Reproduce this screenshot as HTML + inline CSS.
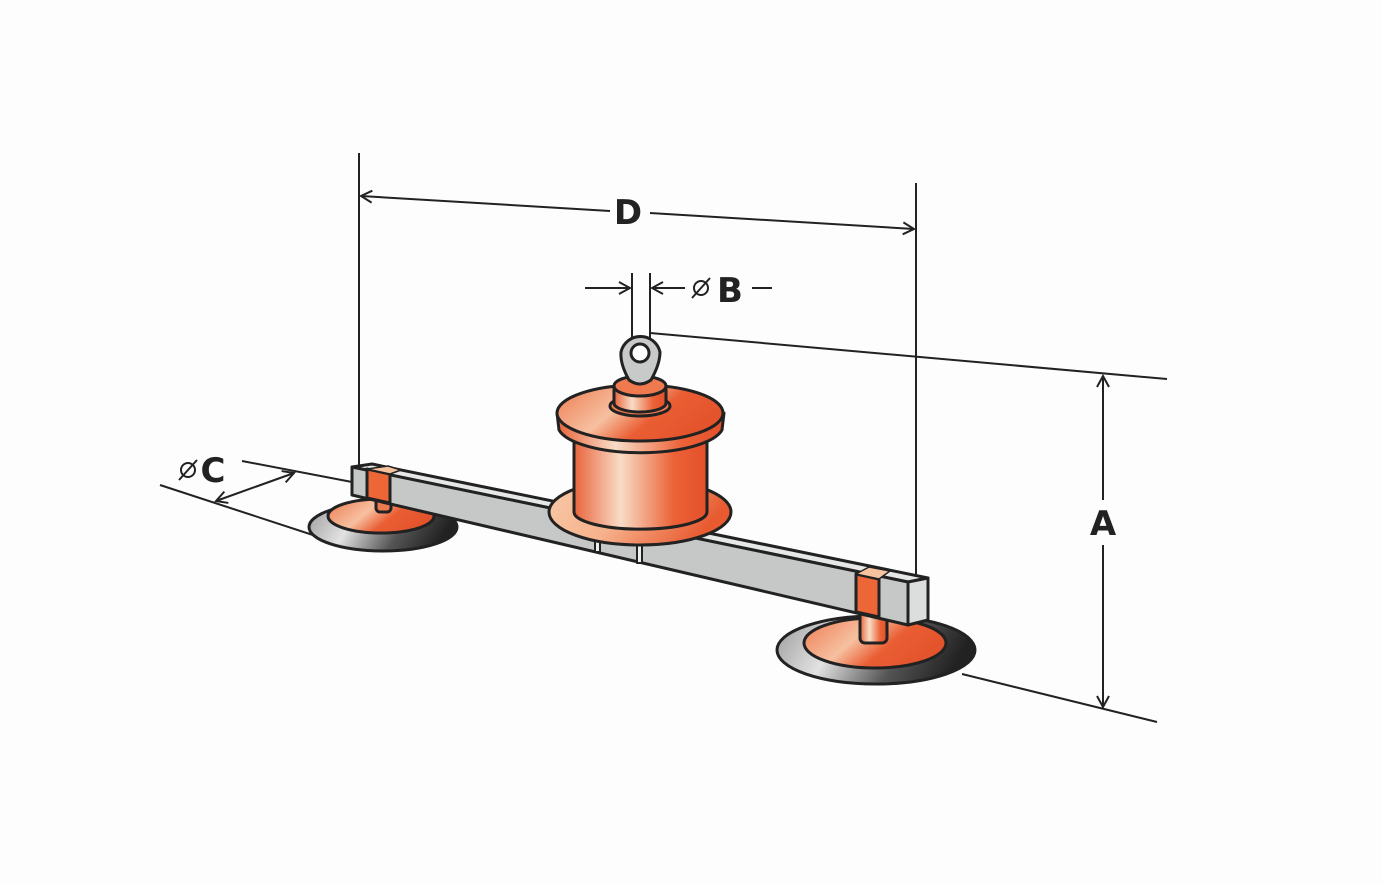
<!DOCTYPE html>
<html><head><meta charset="utf-8"><style>html,body{margin:0;padding:0;background:#fdfdfd}svg{display:block}</style></head>
<body>
<svg width="1382" height="883" viewBox="0 0 1382 883" xmlns="http://www.w3.org/2000/svg">
<defs>
<linearGradient id="og" x1="0" x2="1" y1="0" y2="0">
<stop offset="0" stop-color="#e9643c"/><stop offset="0.35" stop-color="#f8dcc6"/><stop offset="0.75" stop-color="#ec6237"/><stop offset="1" stop-color="#e4502a"/></linearGradient>
<linearGradient id="og2" x1="0" x2="1" y1="0" y2="0.3">
<stop offset="0" stop-color="#f8caa8"/><stop offset="0.5" stop-color="#f6b28c"/><stop offset="1" stop-color="#e85a30"/></linearGradient>
<linearGradient id="rg" x1="0" x2="1" y1="0" y2="0.4">
<stop offset="0" stop-color="#ee7a50"/><stop offset="0.45" stop-color="#f6c0a0"/><stop offset="0.7" stop-color="#ea5e34"/><stop offset="1" stop-color="#e4542c"/></linearGradient>
<linearGradient id="gg" x1="0" x2="1" y1="0" y2="0.2">
<stop offset="0" stop-color="#9a9a9a"/><stop offset="0.35" stop-color="#e2e2e2"/><stop offset="0.7" stop-color="#555"/><stop offset="1" stop-color="#222"/></linearGradient>
<marker id="ar" markerWidth="14" markerHeight="14" refX="12" refY="7" orient="auto" markerUnits="userSpaceOnUse"><path d="M1,1 L12,7 L1,13" fill="none" stroke="#222" stroke-width="2"/></marker>
</defs>
<g stroke="#222" stroke-width="2" fill="none">
<line x1="359" y1="153" x2="359" y2="466"/>
<line x1="916" y1="183" x2="916" y2="578"/>
<line x1="610" y1="211" x2="361" y2="196" marker-end="url(#ar)"/>
<line x1="650" y1="213" x2="914" y2="229" marker-end="url(#ar)"/>
<line x1="585" y1="288" x2="630" y2="288" marker-end="url(#ar)"/>
<line x1="685" y1="288" x2="652" y2="288" marker-end="url(#ar)"/>
<line x1="632" y1="273" x2="632" y2="340"/>
<line x1="650" y1="273" x2="650" y2="340"/>
<line x1="752" y1="288" x2="772" y2="288"/>
<line x1="650" y1="333" x2="1167" y2="379"/>
<line x1="962" y1="674" x2="1157" y2="722"/>
<line x1="1103" y1="500" x2="1103" y2="376" marker-end="url(#ar)"/>
<line x1="1103" y1="545" x2="1103" y2="707" marker-end="url(#ar)"/>
<line x1="160" y1="485" x2="322" y2="538"/>
<line x1="242" y1="461" x2="352" y2="482"/>
<line x1="255" y1="487" x2="216" y2="501" marker-end="url(#ar)"/>
<line x1="255" y1="487" x2="294" y2="473" marker-end="url(#ar)"/>
</g>
<g font-family="'DejaVu Sans','Liberation Sans',sans-serif" font-weight="bold" font-size="34" fill="#222" text-anchor="middle">
<text x="628" y="224">D</text>
<text x="730" y="302">B</text>
<text x="1103" y="535">A</text>
<text x="213" y="482">C</text>
</g>
<g stroke="#222" stroke-width="2" fill="none">
<circle cx="701" cy="288" r="7"/><line x1="692" y1="298" x2="710" y2="278"/>
<circle cx="188" cy="470" r="7"/><line x1="179" y1="480" x2="197" y2="460"/>
</g>

<g stroke="#222" stroke-width="3" stroke-linejoin="round">
<ellipse cx="383" cy="527" rx="74" ry="24" fill="url(#gg)"/>
<ellipse cx="381" cy="516" rx="53" ry="17" fill="url(#rg)"/>
<rect x="376" y="488" width="15" height="24" rx="4" fill="#ee7a50"/>
<ellipse cx="876" cy="650" rx="99" ry="34" fill="url(#gg)"/>
<ellipse cx="875" cy="643" rx="71" ry="25" fill="url(#rg)"/>
<rect x="860" y="600" width="27" height="43" rx="5" fill="url(#og)"/>
<polygon points="352,467 372,464 928,578 908,582" fill="#e6e7e7"/>
<polygon points="352,467 908,582 908,625 352,495" fill="#c6c8c7"/>
<polygon points="908,582 928,578 928,620 908,625" fill="#dcdddd"/>
<polygon points="367,469 390,474 390,503 367,498" fill="#ec6637"/>
<polygon points="367,469 388,466 401,470 390,474" fill="#f6c39e" stroke-width="1.5"/>
<polygon points="856,574 879,579 879,617 856,612" fill="#ec6637"/>
<polygon points="856,574 869,567 890,571 879,579" fill="#f6c39e" stroke-width="1.5"/>
<rect x="595" y="530" width="5" height="22" fill="#eee" stroke-width="2"/>
<rect x="637" y="535" width="5" height="28" fill="#eee" stroke-width="2"/>
<ellipse cx="640" cy="512" rx="91" ry="33" fill="url(#og2)"/>
<path d="M574,440 L574,512 A66,17 0 0 0 707,512 L707,440 Z" fill="url(#og)"/>
<path d="M557,413 L559,430 A83,28 0 0 0 722,430 L724,413 Z" fill="url(#og)"/>
<ellipse cx="640" cy="413" rx="83" ry="28" fill="url(#rg)"/>
<ellipse cx="640" cy="406" rx="30" ry="10" fill="#ee7a50"/>
<path d="M614,386 L614,403 A26,9 0 0 0 666,403 L666,386 Z" fill="url(#og)"/>
<ellipse cx="640" cy="386" rx="26" ry="10" fill="#ef7a4f"/>
<path d="M629,380 Q620,364 621,352 A20,20 0 0 1 660,352 Q660,364 651,380 Q640,388 629,380 Z" fill="#c8c9c9"/>
<circle cx="640" cy="353" r="9" fill="#fff"/>
</g>
</svg>
</body></html>
